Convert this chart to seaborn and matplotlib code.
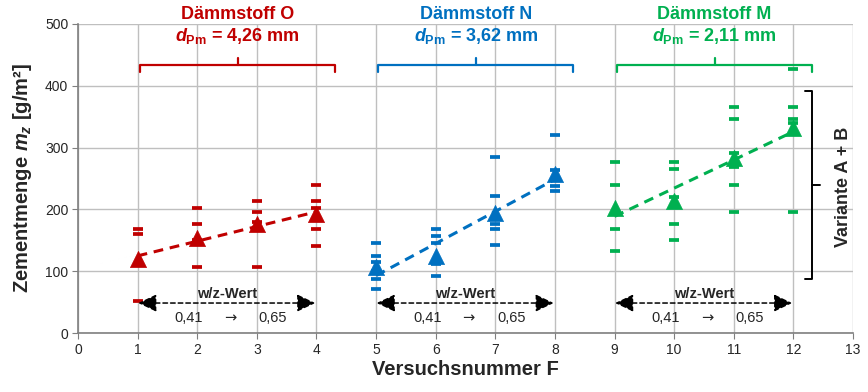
"""Zementmenge je Versuch fuer drei Daemmstoffe (Einzelwerte, Mittel, Trend)."""
import numpy as np
import pandas as pd
import seaborn as sns
import matplotlib.pyplot as plt

sns.set_style("white")
plt.rcParams["font.family"] = ["Liberation Sans", "DejaVu Sans"]
plt.rcParams["mathtext.fontset"] = "custom"
plt.rcParams["mathtext.it"] = "Liberation Sans:italic:bold"
plt.rcParams["mathtext.rm"] = "Liberation Sans:bold"
plt.rcParams["mathtext.bf"] = "Liberation Sans:bold"


# ---- data ----
versuch_O = [1, 2, 3, 4]
versuch_N = [5, 6, 7, 8]
versuch_M = [9, 10, 11, 12]

mittel_O = [120, 154, 176, 192]
mittel_N = [107, 125, 194, 257]
mittel_M = [202, 213, 283, 331]

einzel_O = [[168, 160, 52], [203, 177, 150, 145, 107],
            [214, 195, 180, 107], [240, 214, 203, 168, 141]]
einzel_N = [[146, 125, 115, 100, 88, 71], [169, 157, 146, 112, 93],
            [284, 222, 177, 169, 142], [320, 263, 238, 230]]
einzel_M = [[276, 240, 169, 133], [276, 266, 220, 177, 150],
            [365, 346, 292, 268, 240, 195], [427, 365, 346, 340, 195]]

namen = ["Dämmstoff O", "Dämmstoff N", "Dämmstoff M"]
d_pm = ["4,26", "3,62", "2,11"]
farben = ["#C00000", "#0070C0", "#00B050"]


groups = [
    (versuch_O, mittel_O, einzel_O),
    (versuch_N, mittel_N, einzel_N),
    (versuch_M, mittel_M, einzel_M),
]

fig = plt.figure(figsize=(8.68, 3.92), dpi=100)
ax = fig.add_axes([0.0899, 0.1505, 0.8928, 0.7883])

for i, ((vx, mw, ez), c) in enumerate(zip(groups, farben)):
    df_e = pd.DataFrame(
        [(x, v) for x, vals in zip(vx, ez) for v in vals], columns=["x", "y"])
    df_m = pd.DataFrame({"x": vx, "y": mw})

    # single values as short dashes
    sns.scatterplot(data=df_e, x="x", y="y", marker="_", s=55,
                    linewidth=2.7, color=c, ax=ax, zorder=3)
    # linear trend of the means
    sns.regplot(data=df_m, x="x", y="y", ci=None, scatter=False,
                line_kws=dict(color=c, lw=2.2, ls=(0, (3.2, 2.2))),
                ax=ax)
    # means
    sns.scatterplot(data=df_m, x="x", y="y", marker="^", s=135,
                    color=c, edgecolor=c, linewidth=0.5, ax=ax, zorder=5)

    # group brace + labels on top
    x0, x1 = vx[0] + 0.04, vx[-1] + 0.31
    xm = vx[0] + 1.68
    ax.plot([x0, x0, x1, x1], [423, 434, 434, 423], color=c, lw=1.6,
            clip_on=False, solid_joinstyle="round")
    ax.plot([xm, xm], [434, 445], color=c, lw=1.6, clip_on=False)
    ax.text(xm, 516, namen[i], color=c, fontsize=13, fontweight="bold",
            ha="center", va="center", clip_on=False)
    ax.text(xm, 480, r"$d_{\mathrm{Pm}}$ = " + d_pm[i] + " mm", color=c,
            fontsize=13, fontweight="bold", ha="center", va="center")

    # w/z arrows
    ax.annotate("", xy=(vx[-1] - 0.02, 48.5), xytext=(vx[0] + 0.01, 48.5),
                arrowprops=dict(arrowstyle="<|-|>,head_length=0.8,head_width=0.38",
                                mutation_scale=14, color="black", lw=1.1,
                                ls=(0, (3, 2)), shrinkA=0, shrinkB=0))
    ax.text(vx[0] + 1.5, 63, "w/z-Wert", fontsize=10.5, fontweight="bold",
            ha="center", va="center")
    ax.text(vx[0] + 0.86, 25, "0,41", fontsize=10.5, ha="center", va="center")
    ax.text(vx[0] + 1.55, 25, "→", fontsize=10.5, ha="center", va="center",
            family=["DejaVu Sans"])
    ax.text(vx[0] + 2.27, 25, "0,65", fontsize=10.5, ha="center", va="center")

# right brace "Variante A + B"
xb = 12.32
ax.plot([12.2, xb, xb, 12.2], [392, 392, 87, 87], color="black", lw=1.4)
ax.plot([xb, 12.44], [239.5, 239.5], color="black", lw=1.4)
ax.text(12.84, 236, "Variante A + B", rotation=90, fontsize=13,
        fontweight="bold", ha="center", va="center")

ax.set_xlim(0, 13)
ax.set_ylim(0, 500)
ax.xaxis.set(major_locator=plt.MultipleLocator(1))
ax.yaxis.set(major_locator=plt.MultipleLocator(100))
ax.grid(True, color="#BFBFBF", lw=1)
ax.set_axisbelow(True)
for side in ["top", "right"]:
    ax.spines[side].set_visible(False)
for side in ["left", "bottom"]:
    ax.spines[side].set_color("#7F7F7F")
    ax.spines[side].set_linewidth(1.2)
ax.tick_params(axis="both", which="major", direction="out", length=4,
               color="#7F7F7F", labelsize=10, pad=3, left=True, bottom=True)
ax.set_xlabel("Versuchsnummer F", fontsize=14.5, fontweight="bold", labelpad=2)
ax.set_ylabel("Zementmenge $m_z$ [g/m²]", fontsize=14.5, fontweight="bold",
              labelpad=8)

fig.savefig("out.png", dpi=100)
plt.close(fig)
